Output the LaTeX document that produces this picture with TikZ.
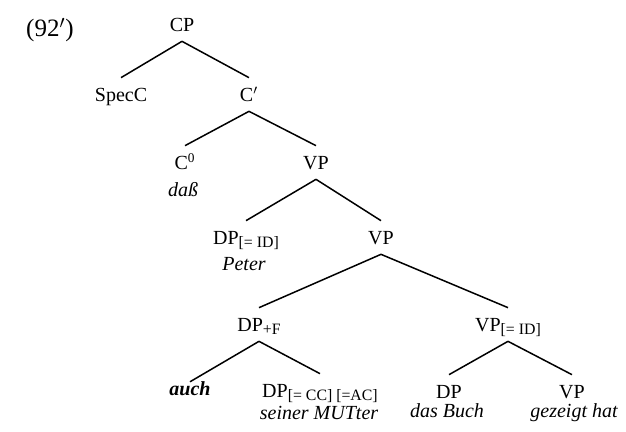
\documentclass[tikz,border=0pt]{standalone}
\usepackage{fontspec}
\setmainfont{Liberation Serif}
\newcommand{\featsub}[1]{\raisebox{-0.3ex}{\fontsize{9.5}{10}\selectfont #1}}

\begin{document}
\begin{tikzpicture}[
            x=0.6pt, y=-0.6pt,
            font=\fontsize{12}{14}\selectfont,
            cat/.style={
                    anchor=base,
                    inner xsep=1pt,
                    inner ysep=0pt,
                    text height=14.4pt,
                    text depth=5.4pt
                },
            gloss/.style={
                    anchor=base,
                    inner sep=0pt,
                    font=\fontsize{12}{14}\selectfont\itshape
                },
            branch/.style={
                    line width=0.9pt
                }
        ]
        \useasboundingbox (0,0) rectangle (626,432);

        % Numero de l'exemple
        \node[anchor=base, font=\fontsize{15}{18}\selectfont] (ex) at (50,37) {(92$'$)};

        % CP et C'
        \node[cat] (cp) at (182,32) {CP};
        \node[cat] (specc) at (121,102) {SpecC};
        \node[cat] (cbar) at (249,102) {C$'$};
        \node[cat] (czero) at (185,170) {C\textsuperscript{0}};
        \node[gloss] (dass) at (183,197) {daß};
        \node[cat] (vpa) at (316,170) {VP};

        % VP interne
        \node[cat] (dpid) at (246,245) {DP\featsub{[= ID]}};
        \node[gloss] (peter) at (244,271) {Peter};
        \node[cat] (vpb) at (381,245) {VP};

        % Branches du bas
        \node[cat] (dpf) at (259,332) {DP\featsub{+F}};
        \node[cat] (vpid) at (508,332) {VP\featsub{[= ID]}};
        \node[gloss, font=\fontsize{12}{14}\selectfont\bfseries\itshape] (auch) at (190,396) {auch};
        \node[cat] (dpcc) at (320,398) {DP\featsub{[= CC] [=AC]}};
        \node[gloss] (mutter) at (319,419) {seiner MUTter};
        \node[cat] (dpbuch) at (449,399) {DP};
        \node[gloss] (buch) at (447,418) {das Buch};
        \node[cat] (vpc) at (572,399) {VP};
        \node[gloss] (gezeigt) at (574,418) {gezeigt hat};

        % Aretes
        \draw[branch] (cp.south) -- (specc.north);
        \draw[branch] (cp.south) -- (cbar.north);
        \draw[branch] (cbar.south) -- (czero.north);
        \draw[branch] (cbar.south) -- (vpa.north);
        \draw[branch] (vpa.south) -- (dpid.north);
        \draw[branch] (vpa.south) -- (vpb.north);
        \draw[branch] (vpb.south) -- (dpf.north);
        \draw[branch] (vpb.south) -- (vpid.north);
        \draw[branch] (dpf.south) -- (auch.north);
        \draw[branch] (dpf.south) -- (dpcc.north);
        \draw[branch] (vpid.south) -- (dpbuch.north);
        \draw[branch] (vpid.south) -- (vpc.north);

    \end{tikzpicture}
\end{document}
